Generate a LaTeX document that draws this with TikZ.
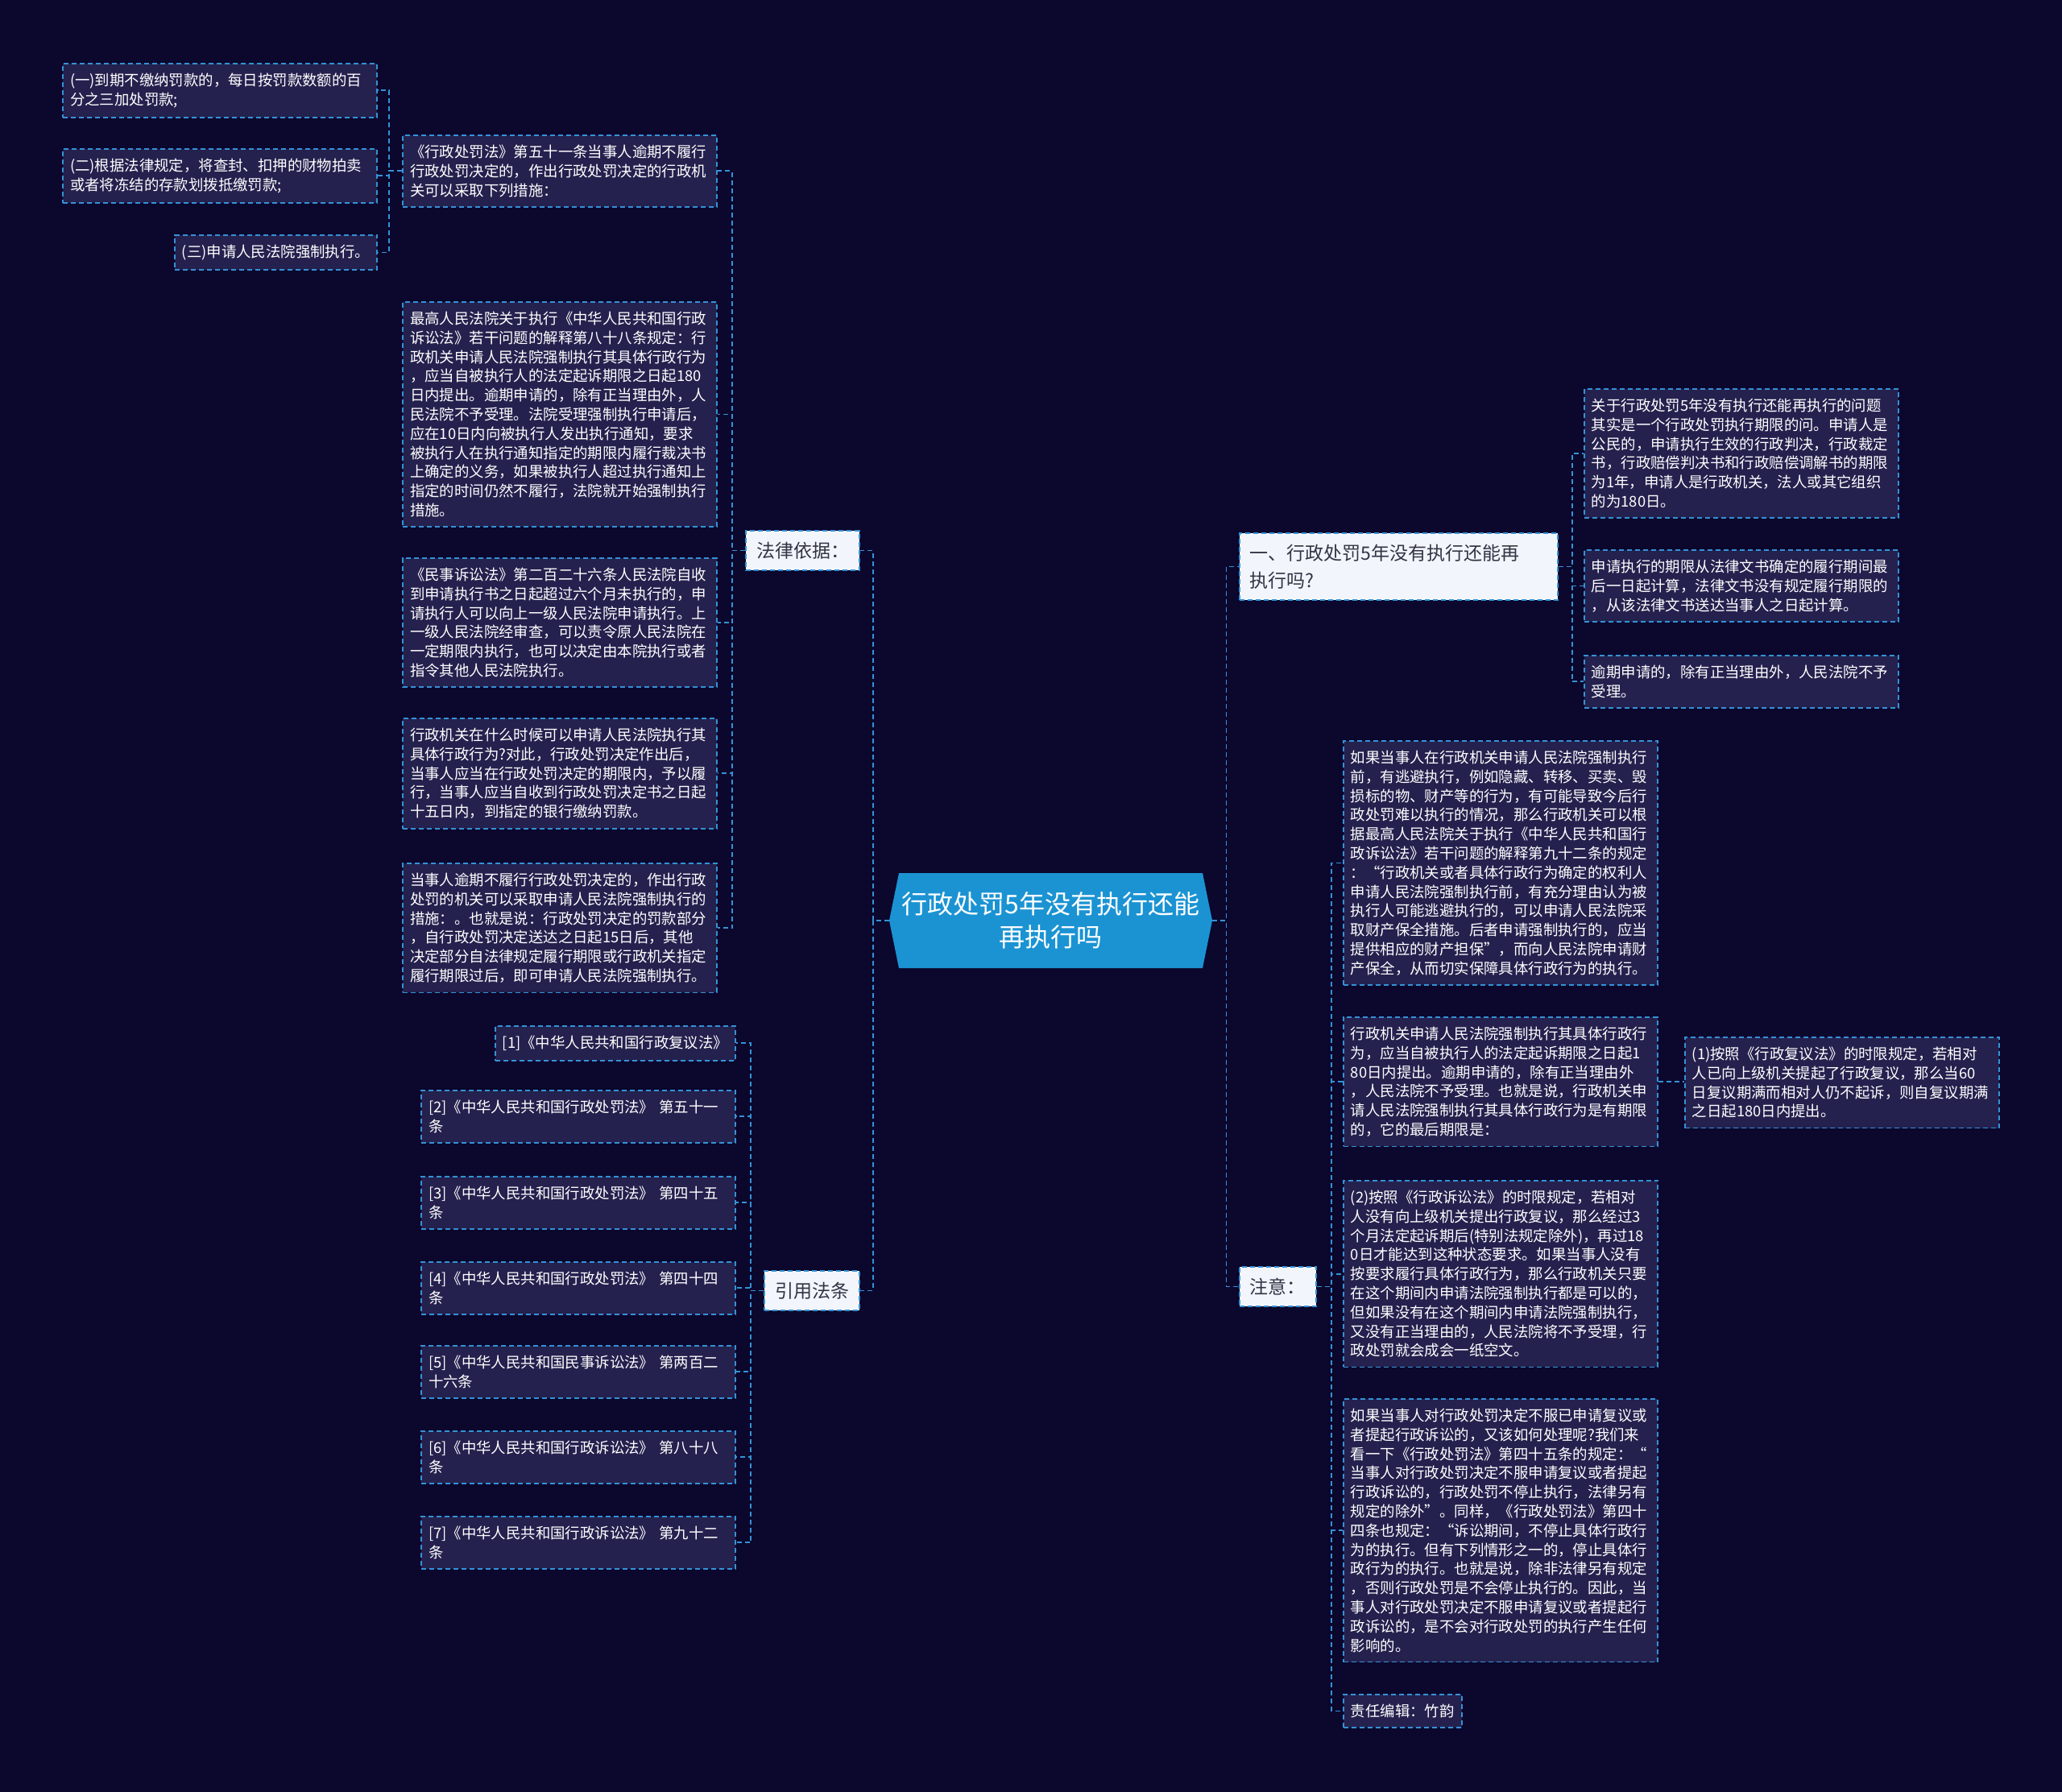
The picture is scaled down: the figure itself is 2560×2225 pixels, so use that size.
\documentclass[tikz,border=0pt]{standalone}
\usepackage{fontspec}
\setmainfont{Noto Sans CJK SC}
\definecolor{bgnavy}{HTML}{0B072D}
\definecolor{boxfill}{HTML}{24214E}
\definecolor{linkblue}{HTML}{3492D6}
\definecolor{rootblue}{HTML}{1B93D3}
\definecolor{topfill}{HTML}{F2F6FC}
\definecolor{toptext}{HTML}{333344}
\begin{document}
\begin{tikzpicture}[x=0.5pt,y=-0.5pt,
    link/.style={draw=linkblue, line width=0.9pt, dash pattern=on 3pt off 2pt},
    leaf/.style={link, fill=boxfill, text=white, align=left,
        font=\fontsize{9.2}{11.9}\selectfont, inner xsep=4.5pt, inner ysep=6pt},
    wideleaf/.style={leaf, text width=186pt},
    topic/.style={link, fill=topfill, text=toptext, align=left,
        font=\fontsize{11.5}{17}\selectfont, inner xsep=6.5pt, inner ysep=7pt},
    rootnode/.style={text=white, align=center, inner sep=0pt,
        minimum width=200.5pt, minimum height=59pt, font=\fontsize{16}{20.5}\selectfont}]
        % --- Background ---
        \fill[bgnavy] (0,0) rectangle (2560,2225);

        % --- Root ---
        \fill[rootblue] (1104,1143) -- (1116,1084) -- (1493,1084) -- (1505,1143)
            -- (1493,1202) -- (1116,1202) -- cycle;
        \node[rootnode] (root) at (1304.5,1143) {行政处罚5年没有执行还能\\再执行吗};

        % --- Left: topics ---
        \node[topic, anchor=north east] (falv) at (1068,658) {法律依据：};
        \node[topic, anchor=north east] (yinyong) at (1068,1577) {引用法条};

        % --- Left: legal basis ---
        \node[wideleaf, anchor=north east] (b1) at (891,167) {《行政处罚法》第五十一条当事人逾期不履行\\行政处罚决定的，作出行政处罚决定的行政机\\关可以采取下列措施：};
        \node[wideleaf, anchor=north east] (b2) at (891,374) {最高人民法院关于执行《中华人民共和国行政\\诉讼法》若干问题的解释第八十八条规定：行\\政机关申请人民法院强制执行其具体行政行为\\，应当自被执行人的法定起诉期限之日起180\\日内提出。逾期申请的，除有正当理由外，人\\民法院不予受理。法院受理强制执行申请后，\\应在10日内向被执行人发出执行通知，要求\\被执行人在执行通知指定的期限内履行裁决书\\上确定的义务，如果被执行人超过执行通知上\\指定的时间仍然不履行，法院就开始强制执行\\措施。};
        \node[wideleaf, anchor=north east] (b3) at (891,692) {《民事诉讼法》第二百二十六条人民法院自收\\到申请执行书之日起超过六个月未执行的，申\\请执行人可以向上一级人民法院申请执行。上\\一级人民法院经审查，可以责令原人民法院在\\一定期限内执行，也可以决定由本院执行或者\\指令其他人民法院执行。};
        \node[wideleaf, anchor=north east] (b4) at (891,891) {行政机关在什么时候可以申请人民法院执行其\\具体行政行为?对此，行政处罚决定作出后，\\当事人应当在行政处罚决定的期限内，予以履\\行，当事人应当自收到行政处罚决定书之日起\\十五日内，到指定的银行缴纳罚款。};
        \node[wideleaf, anchor=north east] (b5) at (891,1071) {当事人逾期不履行行政处罚决定的，作出行政\\处罚的机关可以采取申请人民法院强制执行的\\措施：。也就是说：行政处罚决定的罚款部分\\，自行政处罚决定送达之日起15日后，其他\\决定部分自法律规定履行期限或行政机关指定\\履行期限过后，即可申请人民法院强制执行。};

        % --- Left: measures of article 51 ---
        \node[wideleaf, anchor=north east] (a1) at (469,78) {(一)到期不缴纳罚款的，每日按罚款数额的百\\分之三加处罚款;};
        \node[wideleaf, anchor=north east] (a2) at (469,184) {(二)根据法律规定，将查封、扣押的财物拍卖\\或者将冻结的存款划拨抵缴罚款;};
        \node[leaf, anchor=north east] (a3) at (469,291) {(三)申请人民法院强制执行。};

        % --- Left: cited articles ---
        \node[leaf, anchor=north east] (c1) at (914,1273) {[1]《中华人民共和国行政复议法》};
        \node[wideleaf, anchor=north east] (c2) at (914,1353) {[2]《中华人民共和国行政处罚法》 第五十一\\条};
        \node[wideleaf, anchor=north east] (c3) at (914,1460) {[3]《中华人民共和国行政处罚法》 第四十五\\条};
        \node[wideleaf, anchor=north east] (c4) at (914,1566) {[4]《中华人民共和国行政处罚法》 第四十四\\条};
        \node[wideleaf, anchor=north east] (c5) at (914,1670) {[5]《中华人民共和国民事诉讼法》 第两百二\\十六条};
        \node[wideleaf, anchor=north east] (c6) at (914,1776) {[6]《中华人民共和国行政诉讼法》 第八十八\\条};
        \node[wideleaf, anchor=north east] (c7) at (914,1882) {[7]《中华人民共和国行政诉讼法》 第九十二\\条};

        % --- Right: topics ---
        \node[topic, anchor=north west, text width=184.5pt] (yi) at (1538,661) {一、行政处罚5年没有执行还能再\\执行吗?};
        \node[topic, anchor=north west] (zhuyi) at (1538,1572) {注意：};

        % --- Right: question one ---
        \node[wideleaf, anchor=north west] (r1) at (1966,482) {关于行政处罚5年没有执行还能再执行的问题\\其实是一个行政处罚执行期限的问。申请人是\\公民的，申请执行生效的行政判决，行政裁定\\书，行政赔偿判决书和行政赔偿调解书的期限\\为1年，申请人是行政机关，法人或其它组织\\的为180日。};
        \node[wideleaf, anchor=north west] (r2) at (1966,682) {申请执行的期限从法律文书确定的履行期间最\\后一日起计算，法律文书没有规定履行期限的\\，从该法律文书送达当事人之日起计算。};
        \node[wideleaf, anchor=north west] (r3) at (1966,813) {逾期申请的，除有正当理由外，人民法院不予\\受理。};

        % --- Right: notes ---
        \node[wideleaf, anchor=north west] (n1) at (1667,919) {如果当事人在行政机关申请人民法院强制执行\\前，有逃避执行，例如隐藏、转移、买卖、毁\\损标的物、财产等的行为，有可能导致今后行\\政处罚难以执行的情况，那么行政机关可以根\\据最高人民法院关于执行《中华人民共和国行\\政诉讼法》若干问题的解释第九十二条的规定\\：“行政机关或者具体行政行为确定的权利人\\申请人民法院强制执行前，有充分理由认为被\\执行人可能逃避执行的，可以申请人民法院采\\取财产保全措施。后者申请强制执行的，应当\\提供相应的财产担保”，而向人民法院申请财\\产保全，从而切实保障具体行政行为的执行。};
        \node[wideleaf, anchor=north west] (n2) at (1667,1262) {行政机关申请人民法院强制执行其具体行政行\\为，应当自被执行人的法定起诉期限之日起1\\80日内提出。逾期申请的，除有正当理由外\\，人民法院不予受理。也就是说，行政机关申\\请人民法院强制执行其具体行政行为是有期限\\的，它的最后期限是：};
        \node[wideleaf, anchor=north west] (n2a) at (2091,1287) {(1)按照《行政复议法》的时限规定，若相对\\人已向上级机关提起了行政复议，那么当60\\日复议期满而相对人仍不起诉，则自复议期满\\之日起180日内提出。};
        \node[wideleaf, anchor=north west] (n3) at (1667,1465) {(2)按照《行政诉讼法》的时限规定，若相对\\人没有向上级机关提出行政复议，那么经过3\\个月法定起诉期后(特别法规定除外)，再过18\\0日才能达到这种状态要求。如果当事人没有\\按要求履行具体行政行为，那么行政机关只要\\在这个期间内申请法院强制执行都是可以的，\\但如果没有在这个期间内申请法院强制执行，\\又没有正当理由的，人民法院将不予受理，行\\政处罚就会成会一纸空文。};
        \node[wideleaf, anchor=north west] (n4) at (1667,1736) {如果当事人对行政处罚决定不服已申请复议或\\者提起行政诉讼的，又该如何处理呢?我们来\\看一下《行政处罚法》第四十五条的规定：“\\当事人对行政处罚决定不服申请复议或者提起\\行政诉讼的，行政处罚不停止执行，法律另有\\规定的除外”。同样，《行政处罚法》第四十\\四条也规定：“诉讼期间，不停止具体行政行\\为的执行。但有下列情形之一的，停止具体行\\政行为的执行。也就是说，除非法律另有规定\\，否则行政处罚是不会停止执行的。因此，当\\事人对行政处罚决定不服申请复议或者提起行\\政诉讼的，是不会对行政处罚的执行产生任何\\影响的。};
        \node[leaf, anchor=north west] (n5) at (1667,2103) {责任编辑：竹韵};

        % --- Connectors ---
        \foreach \c in {falv,yinyong} {
            \draw[link] (root.west) -- ++(-20,0) |- (\c.east);
        }
        \foreach \c in {yi,zhuyi} {
            \draw[link] (root.east) -- ++(17,0) |- (\c.west);
        }
        \foreach \i in {1,...,5} {
            \draw[link] (falv.west) -- ++(-16,0) |- (b\i.east);
        }
        \foreach \i in {1,...,3} {
            \draw[link] (b1.west) -- ++(-16,0) |- (a\i.east);
        }
        \foreach \i in {1,...,7} {
            \draw[link] (yinyong.west) -- ++(-16,0) |- (c\i.east);
        }
        \foreach \i in {1,...,3} {
            \draw[link] (yi.east) -- ++(17,0) |- (r\i.west);
        }
        \foreach \i in {1,...,5} {
            \draw[link] (zhuyi.east) -- ++(18,0) |- (n\i.west);
        }
        \draw[link] (n2.east) -- (n2.east -| n2a.west);

        \end{tikzpicture}
\end{document}
